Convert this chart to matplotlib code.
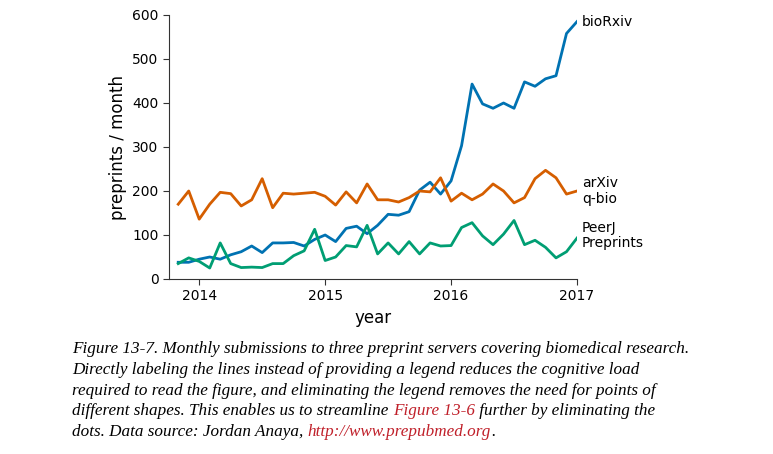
import numpy as np
import matplotlib.pyplot as plt

# monthly values, Nov 2013 .. Jan 2017
months = 2013 + 10/12 + np.arange(39) / 12
biorxiv = [38, 38, 45, 50, 45, 55, 62, 75, 60, 82, 82, 83, 75, 90, 100, 85, 115, 120, 103, 122,
           147, 145, 153, 202, 220, 193, 223, 303, 443, 398, 388, 400, 388, 448, 438, 455, 462, 558, 585]
arxiv = [170, 200, 136, 170, 197, 194, 166, 180, 228, 162, 195, 193, 195, 197, 188, 168, 198, 173, 216, 180,
         180, 175, 185, 200, 198, 230, 177, 195, 180, 193, 216, 200, 173, 185, 228, 247, 230, 193, 200]
peerj = [35, 48, 40, 25, 82, 35, 26, 27, 26, 35, 35, 53, 64, 113, 42, 50, 76, 73, 122, 57,
         82, 57, 85, 57, 82, 75, 76, 117, 128, 98, 78, 102, 133, 78, 88, 72, 48, 62, 93]

fig = plt.figure(figsize=(7.73, 4.54), dpi=100)
ax = fig.add_axes([169/773, 1 - 279/454, (577 - 169)/773, (279 - 15)/454])

ax.plot(months, biorxiv, color='#0072B2', lw=2)
ax.plot(months, arxiv, color='#D55E00', lw=2)
ax.plot(months, peerj, color='#009E73', lw=2)

ax.set_xlim(2013 + 0.76, 2017)
ax.set_ylim(0, 600)
ax.set_xticks([2014, 2015, 2016, 2017])
ax.set_yticks([0, 100, 200, 300, 400, 500, 600])
ax.tick_params(labelsize=10, length=4, color='#333333')
for s in ['top', 'right']:
    ax.spines[s].set_visible(False)
for s in ['left', 'bottom']:
    ax.spines[s].set_color('#333333')
ax.set_xlabel('year', fontsize=12)
ax.set_ylabel('preprints / month', fontsize=12)

lab = dict(fontsize=10, va='center', ha='left', clip_on=False)
ax.text(2017.04, biorxiv[-1], 'bioRxiv', **lab)
ax.text(2017.04, arxiv[-1], 'arXiv\nq-bio', linespacing=1.1, **lab)
ax.text(2017.04, peerj[-1] + 5, 'PeerJ\nPreprints', linespacing=1.1, **lab)

# caption
cap = [
    [("Figure 13-7. Monthly submissions to three preprint servers covering biomedical research.", 'black')],
    [("Directly labeling the lines instead of providing a legend reduces the cognitive load", 'black')],
    [("required to read the figure, and eliminating the legend removes the need for points of", 'black')],
    [("different shapes. This enables us to streamline ", 'black'), ("Figure 13-6", '#C0202A'),
     (" further by eliminating the", 'black')],
    [("dots. Data source: Jordan Anaya, ", 'black'), ("http://www.prepubmed.org", '#C0202A'), (".", 'black')],
]
fig.canvas.draw()
r = fig.canvas.get_renderer()
for i, line in enumerate(cap):
    x = 72
    y = 1 - (353 + i * 20.8) / 454
    for s, c in line:
        t = fig.text(x / 773, y, s, color=c, fontsize=12.3, family='Liberation Serif',
                     style='italic', va='baseline')
        x += t.get_window_extent(r).width

fig.savefig('out.png', dpi=100)
